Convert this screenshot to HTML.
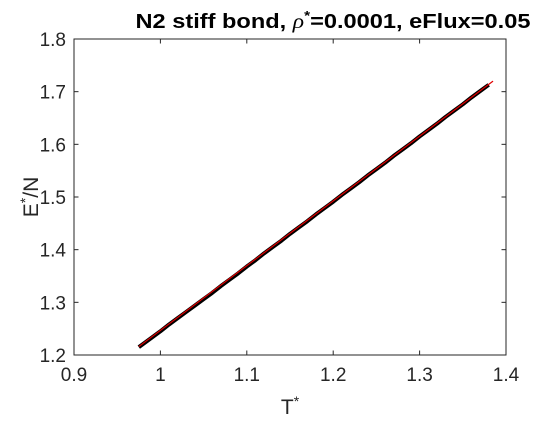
<!DOCTYPE html>
<html><head><meta charset="utf-8"><style>
body{margin:0;background:#fff;}
svg text{font-family:"Liberation Sans","DejaVu Sans",sans-serif;}
</style></head><body>
<svg width="560" height="420" viewBox="0 0 560 420" xmlns="http://www.w3.org/2000/svg">
<rect x="0" y="0" width="560" height="420" fill="#fff"/>
<rect x="74" y="39" width="432" height="316" fill="#fff" stroke="#262626" stroke-width="1"/>
<g id="ticks"></g>
<g id="marks"></g>
<text x="333" y="28" text-anchor="middle" font-size="20" font-weight="bold" fill="#000" textLength="395" lengthAdjust="spacingAndGlyphs">N2 stiff bond, <tspan font-style="italic" font-weight="normal" font-family="Liberation Serif,serif">ρ</tspan><tspan dy="-8" font-size="13">*</tspan><tspan dy="8">=0.0001, eFlux=0.05</tspan></text>
<text x="290" y="414" text-anchor="middle" font-size="21" fill="#262626">T<tspan dy="-8" font-size="14">*</tspan></text>
<text transform="translate(38,197) rotate(-90)" text-anchor="middle" font-size="21" fill="#262626">E<tspan dy="-8" font-size="14">*</tspan><tspan dy="8">/N</tspan></text>
</svg>
<script>
const xTicks=[0.9,1,1.1,1.2,1.3,1.4];
const xTickLabels=["0.9","1","1.1","1.2","1.3","1.4"];
const yTicks=[1.2,1.3,1.4,1.5,1.6,1.7,1.8];
const yTickLabels=["1.2","1.3","1.4","1.5","1.6","1.7","1.8"];
const dataT=[0.975,0.99,1.0,1.01,1.02,1.03,1.04,1.05,1.06,1.07,1.08,1.09,1.1,1.11,1.12,1.13,1.14,1.15,1.16,1.17,1.18,1.19,1.2,1.21,1.22,1.23,1.24,1.25,1.26,1.27,1.28,1.29,1.3,1.31,1.32,1.33,1.34,1.35,1.36,1.37,1.38];
const dataE=[1.215,1.233,1.245,1.258,1.270,1.282,1.294,1.306,1.318,1.331,1.343,1.355,1.368,1.380,1.393,1.405,1.417,1.430,1.442,1.454,1.467,1.479,1.491,1.504,1.516,1.528,1.541,1.553,1.565,1.578,1.590,1.602,1.615,1.627,1.639,1.652,1.664,1.676,1.689,1.701,1.713];
const fitT=[0.975,1.385];
const fitE=[1.216,1.72];
const NS="http://www.w3.org/2000/svg";
const X0=74,X1=506,Y0=355,Y1=39;
const sx=v=>X0+(v-0.9)/(1.4-0.9)*(X1-X0);
const sy=v=>Y0-(v-1.2)/(1.8-1.2)*(Y0-Y1);
function mk(tag,attrs,parent){const e=document.createElementNS(NS,tag);for(const k in attrs)e.setAttribute(k,attrs[k]);parent.appendChild(e);return e;}
const tg=document.getElementById('ticks');
xTicks.forEach((t,i)=>{const x=sx(t);
 const a=mk('line',{x1:x,x2:x,y1:Y0,y2:Y0-4.5,stroke:'#262626'},tg);
 
 
 mk('line',{x1:x,x2:x,y1:Y1,y2:Y1+4.5,stroke:'#262626'},tg);
 const tx=mk('text',{x:x,y:Y0+26,'text-anchor':'middle','font-size':'19',fill:'#262626'},tg);
 tx.textContent=xTickLabels[i];
 
 
});
yTicks.forEach((t,i)=>{const y=sy(t);
 const a=mk('line',{x1:X0,x2:X0+4.5,y1:y,y2:y,stroke:'#262626'},tg);
 
 
 mk('line',{x1:X1,x2:X1-4.5,y1:y,y2:y,stroke:'#262626'},tg);
 const tx=mk('text',{x:X0-8,y:y+7,'text-anchor':'end','font-size':'19',fill:'#262626'},tg);
 tx.textContent=yTickLabels[i];
 
 
});
const mg=document.getElementById('marks');
const pts=dataT.map((t,i)=>sx(t)+','+sy(dataE[i])).join(' ');
const pl=mk('polyline',{points:pts,fill:'none',stroke:'#000','stroke-width':'4','stroke-linejoin':'round'},mg);


const fl=mk('line',{x1:sx(fitT[0]),y1:sy(fitE[0]),x2:sx(fitT[1]),y2:sy(fitE[1]),stroke:'#e00000','stroke-width':'1.2'},mg);


</script>
</body></html>
